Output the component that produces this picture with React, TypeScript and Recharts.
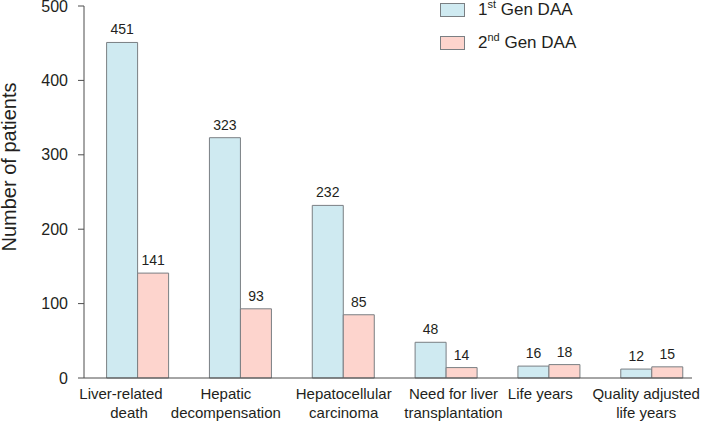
import React from 'react';
import { BarChart, Bar, XAxis, YAxis, Legend, LabelList } from 'recharts';

// values
const categories = [
  'Liver-related death',
  'Hepatic decompensation',
  'Hepatocellular carcinoma',
  'Need for liver transplantation',
  'Life years',
  'Quality adjusted life years',
];
const categoryLines = [
  ['Liver-related', 'death'],
  ['Hepatic', 'decompensation'],
  ['Hepatocellular', 'carcinoma'],
  ['Need for liver', 'transplantation'],
  ['Life years'],
  ['Quality adjusted', 'life years'],
];
const firstGen = [451, 323, 232, 48, 16, 12];
const secondGen = [141, 93, 85, 14, 18, 15];
const yTicks = [0, 100, 200, 300, 400, 500];
const seriesNames = ['1st Gen DAA', '2nd Gen DAA'];

// the original nudges some category labels sideways (per line, px)
const labelShift = [
  [-17, -9],
  [-15, -15],
  [0, 0],
  [7, 7],
  [-9],
  [-6, -6],
];

const BLUE = '#cfeaf1';
const PINK = '#fdd4cd';
const EDGE = '#7a7f83';
const AXIS = '#4d4d4d';
const TEXT = '#231f20';
const FONT = '"Liberation Sans", Arial, Helvetica, sans-serif';

const data = categories.map((c, i) => ({
  category: c,
  first: firstGen[i],
  second: secondGen[i],
}));

const CategoryTick = (props: any) => {
  const { x, y, index } = props;
  const lines = categoryLines[index] || [];
  return (
    <text textAnchor="middle" fontSize={15} fill={TEXT} fontFamily={FONT}>
      {lines.map((line, i) => (
        <tspan key={i} x={x + (labelShift[index]?.[i] ?? 0)} y={y + 21 + i * 19}>
          {line}
        </tspan>
      ))}
    </text>
  );
};

const renderLegend = (props: any) => {
  const { payload } = props;
  return (
    <div style={{ fontFamily: FONT, fontSize: 17, color: TEXT }}>
      {(payload || []).map((entry: any, i: number) => {
        const m = /^(\d+)(st|nd|rd|th)(.*)$/.exec(entry.value) || ['', entry.value, '', ''];
        return (
          <div
            key={i}
            style={{ display: 'flex', alignItems: 'center', height: 14, marginBottom: 19 }}
          >
            <span
              style={{
                display: 'inline-block',
                boxSizing: 'border-box',
                width: 25,
                height: 14,
                background: entry.color,
                border: `1px solid ${EDGE}`,
              }}
            />
            <span style={{ marginLeft: 13, lineHeight: '14px', whiteSpace: 'nowrap' }}>
              {m[1]}
              <sup style={{ fontSize: 11, lineHeight: 0 }}>{m[2]}</sup>
              {m[3]}
            </span>
          </div>
        );
      })}
    </div>
  );
};

const AxisTitle = () => (
  <text
    x={16}
    y={167}
    transform="rotate(-90, 16, 167)"
    textAnchor="middle"
    fontSize={20}
    fill={TEXT}
    fontFamily={FONT}
  >
    Number of patients
  </text>
);

export default function App() {
  return (
    <div style={{ position: 'absolute', left: 0, top: 0, width: 701, height: 421, background: '#fff', fontFamily: FONT }}>
      <BarChart
        width={701}
        height={421}
        data={data}
        margin={{ top: 6, right: 9, left: 0, bottom: 0 }}
        barGap={0}
        barSize={31}
      >
        <XAxis
          dataKey="category"
          height={43}
          interval={0}
          tickLine={false}
          tickSize={0}
          tickMargin={0}
          axisLine={{ stroke: AXIS }}
          padding={{ left: 2.6, right: -11.6 }}
          tick={<CategoryTick />}
        />
        <YAxis
          width={84}
          domain={[0, 500]}
          ticks={yTicks}
          interval={0}
          tickSize={6}
          tickMargin={10}
          axisLine={{ stroke: AXIS }}
          tickLine={{ stroke: AXIS }}
          tick={{ fontSize: 16, fill: TEXT, fontFamily: FONT }}
          label={{ content: () => <AxisTitle /> }}
        />
        <Legend
          layout="vertical"
          align="center"
          verticalAlign="middle"
          content={renderLegend}
          wrapperStyle={{ position: 'absolute', left: 440, top: 3, width: 'auto', height: 'auto' }}
        />
        <Bar dataKey="first" name={seriesNames[0]} fill={BLUE} stroke={EDGE} strokeWidth={1} isAnimationActive={false}>
          <LabelList dataKey="first" position="top" offset={8} fontSize={14} fill={TEXT} fontFamily={FONT} />
        </Bar>
        <Bar dataKey="second" name={seriesNames[1]} fill={PINK} stroke={EDGE} strokeWidth={1} isAnimationActive={false}>
          <LabelList dataKey="second" position="top" offset={8} fontSize={14} fill={TEXT} fontFamily={FONT} />
        </Bar>
      </BarChart>
    </div>
  );
}
